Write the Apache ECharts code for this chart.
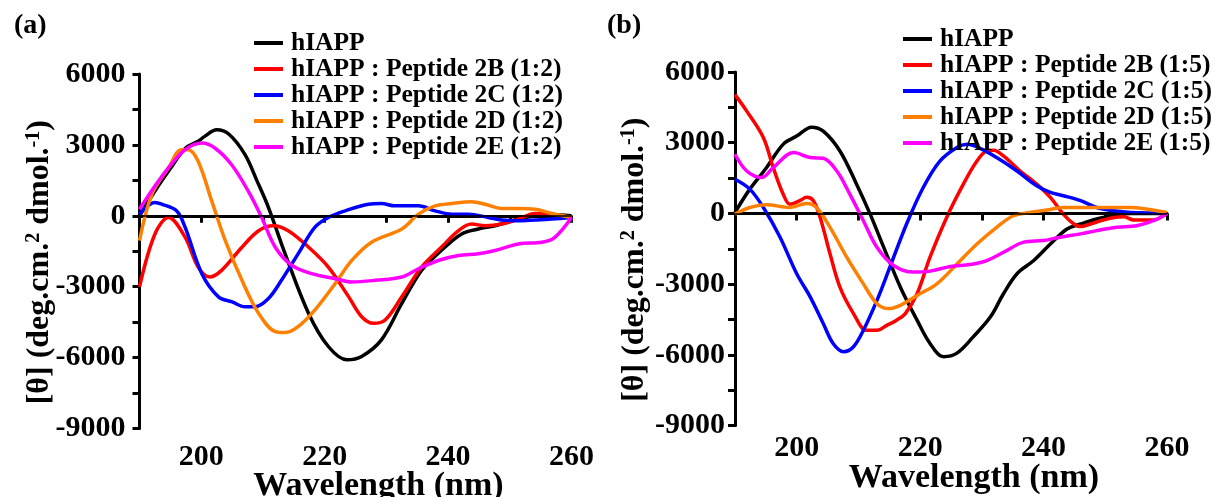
<!DOCTYPE html>
<html>
<head>
<meta charset="utf-8">
<script src="https://cdn.jsdelivr.net/npm/echarts@6/dist/echarts.min.js"></script>
<style>
html,body{margin:0;padding:0;background:#fff;}
#chart{width:1215px;height:497px;}
</style>
</head>
<body>
<div id="chart"></div>
<script>
// ---------------- DATA ----------------
const xTickValues = [200, 220, 240, 260];
const yTickValues = [-9000, -6000, -3000, 0, 3000, 6000];

const namesA = ['hIAPP', 'hIAPP : Peptide 2B (1:2)', 'hIAPP : Peptide 2C (1:2)', 'hIAPP : Peptide 2D (1:2)', 'hIAPP : Peptide 2E (1:2)'];
const namesB = ['hIAPP', 'hIAPP : Peptide 2B (1:5)', 'hIAPP : Peptide 2C (1:5)', 'hIAPP : Peptide 2D (1:5)', 'hIAPP : Peptide 2E (1:5)'];
const colors = ['#000000', '#ff0000', '#0000ff', '#ff8000', '#ff00ff'];

// Panel (a)
const aBlackX = [190, 192.5, 195, 197.4, 199.5, 200.5, 202.5, 204.5, 207.1, 209, 210.9, 213.6, 217.4, 220.6, 223.6, 226, 229.2, 232.5, 235.7, 238.9, 242.2, 244.9, 247.6, 250.3, 254.1, 256.8, 260];
const aBlackY = [0, 1050, 2000, 2850, 3150, 3350, 3640, 3450, 2590, 1500, 350, -1610, -4130, -5530, -6090, -5950, -5250, -3710, -2310, -1470, -770, -560, -420, -210, 0, 40, 0];

const aRedX = [190, 192.5, 194.7, 197.4, 199.5, 201.4, 203.3, 206.6, 209.3, 211.7, 214.1, 217.4, 220.6, 223.9, 226, 227.9, 229.8, 232.5, 235.7, 238.9, 241.7, 243.8, 246, 248.7, 251.4, 254.1, 256.8, 260];
const aRedY = [-3010, -770, -70, -910, -2170, -2590, -2310, -1330, -630, -420, -630, -1330, -2170, -3430, -4270, -4550, -4410, -3430, -2170, -1330, -630, -350, -420, -350, -140, 100, 70, -70];

const aBlueX = [190, 192.5, 193.6, 196, 197.4, 200.1, 202.8, 205, 207.1, 208.7, 210.9, 213, 215.7, 218.4, 220.6, 223.3, 227.1, 229.2, 231.4, 235.2, 237.9, 240.6, 243.3, 246.5, 248.7, 251.4, 254.1, 256.8, 260];
const aBlueY = [70, 560, 490, 210, -490, -2450, -3430, -3640, -3850, -3850, -3500, -2730, -1610, -490, -70, 210, 490, 520, 420, 420, 210, 70, 70, -70, -180, -210, -180, -140, -70];

const aOrangeX = [190, 192, 194.7, 196.8, 197.9, 199.5, 201.7, 203.9, 206.6, 209.3, 212, 213.6, 215.7, 218.4, 221.7, 224.4, 227.6, 232.5, 235.2, 237.9, 240.6, 243.8, 246, 248.7, 251.4, 254.1, 256.8, 260];
const aOrangeY = [-1050, 910, 2030, 2800, 2800, 2310, 630, -1050, -2730, -4130, -4900, -4940, -4690, -3990, -2870, -1890, -1120, -560, 70, 420, 520, 590, 490, 310, 310, 280, 100, -70];

const aMagentaX = [190, 192.5, 194.7, 197.4, 200.1, 202.2, 204.9, 207.6, 209.8, 212, 214.7, 217.9, 221.7, 224.4, 228.2, 232.5, 235.2, 238.4, 241.7, 244.9, 247.6, 251.4, 255.2, 257.3, 260];
const aMagentaY = [280, 1260, 2030, 2800, 3080, 2870, 2170, 1050, -70, -1330, -2100, -2450, -2660, -2800, -2730, -2590, -2240, -1890, -1680, -1610, -1470, -1190, -1120, -910, -70];

// Panel (b)
const bBlackX = [190, 192.4, 195.1, 197.8, 200, 202.4, 204.3, 207, 209.7, 211.9, 214.1, 216.8, 219.5, 221.6, 223.8, 225.9, 228.6, 231.4, 233.5, 235.7, 238.4, 241.1, 243.8, 246, 248.6, 251.4, 254.1, 260];
const bBlackY = [40, 1030, 1940, 2930, 3280, 3660, 3490, 2650, 1240, -30, -1440, -3130, -4530, -5520, -6080, -5940, -5240, -4390, -3410, -2560, -2000, -1300, -660, -450, -240, -100, 0, 0];

const bRedX = [190, 191.9, 194.6, 196.2, 197.8, 198.9, 200.5, 201.6, 202.7, 203.8, 205.4, 207, 209.2, 211.3, 213, 214.6, 216.2, 217.6, 219.5, 221.6, 224.3, 227, 229.2, 230.8, 231.9, 233.5, 236.2, 238.9, 241.1, 243.2, 244.9, 246, 247.6, 249.7, 251.4, 253, 254.6, 256.8, 258.4, 260];
const bRedY = [5040, 4340, 3210, 1940, 820, 390, 540, 680, 540, -170, -1720, -3130, -4250, -4960, -4960, -4750, -4530, -4250, -3410, -1860, -170, 1240, 2220, 2650, 2680, 2440, 1800, 1240, 680, -30, -450, -560, -450, -280, -170, -140, -280, -280, -240, 0];

const bBlueX = [190, 192.4, 194.6, 197.3, 200, 202.2, 204.3, 205.9, 207.6, 209.2, 210.8, 213, 215.1, 217.8, 220.5, 223.2, 225.9, 227.6, 229.7, 232.4, 235.7, 238.9, 241.1, 243.2, 246, 248.6, 251.4, 254.1, 260];
const bBlueY = [1450, 1030, 250, -1010, -2560, -3550, -4670, -5520, -5870, -5660, -4960, -3690, -2280, -450, 1100, 2220, 2790, 2930, 2760, 2370, 1800, 1170, 890, 750, 540, 250, 110, 40, 0];

const bOrangeX = [190, 192.4, 195.1, 198.9, 201.6, 203.2, 205.4, 208.1, 210.8, 213, 214.9, 216.8, 219.5, 222.7, 226, 229.2, 232.4, 235.1, 237.8, 240.5, 243.2, 248.6, 254.1, 256.8, 260];
const bOrangeY = [-30, 250, 370, 250, 420, 250, -590, -1860, -2990, -3830, -4040, -3900, -3480, -2990, -2140, -1300, -590, -100, 40, 140, 250, 250, 250, 180, 40];

const bMagentaX = [190, 191.9, 194.3, 196.2, 199.5, 202.2, 204.3, 206.5, 208.6, 210.8, 213, 215.7, 218.9, 221.6, 224.9, 228.1, 230.8, 233.5, 236.8, 240, 242.7, 246, 248.6, 251.9, 255.1, 257.8, 260];
const bMagentaY = [2510, 1800, 1520, 1940, 2580, 2370, 2340, 1800, 820, -310, -1440, -2210, -2490, -2450, -2250, -2170, -2000, -1650, -1220, -1150, -1010, -870, -730, -590, -520, -310, 0];

// ---------------- BUILD ----------------
const FONT = "'Liberation Serif', 'Times New Roman', serif";
function pairs(xs, ys) { return xs.map((x, i) => [x, ys[i]]); }

const panelA = [[aBlackX, aBlackY], [aRedX, aRedY], [aBlueX, aBlueY], [aOrangeX, aOrangeY], [aMagentaX, aMagentaY]];
const panelB = [[bBlackX, bBlackY], [bRedX, bRedY], [bBlueX, bBlueY], [bOrangeX, bOrangeY], [bMagentaX, bMagentaY]];

function makeSeries(panel, names, idx) {
  return panel.map((d, i) => {
    const s = {
      name: names[i], type: 'line', xAxisIndex: idx, yAxisIndex: idx,
      data: pairs(d[0], d[1]), smooth: 0.35, showSymbol: false, symbol: 'none',
      lineStyle: { color: colors[i], width: 3.5 }, itemStyle: { color: colors[i] },
      z: 3, animation: false
    };
    if (i === 0) {
      s.markLine = {
        silent: true, symbol: ['none', 'none'], label: { show: false },
        lineStyle: { color: '#000', width: 1.5, type: 'solid' },
        data: [{ yAxis: 0 }], animation: false
      };
    }
    return s;
  });
}

function xAxisCfg(idx, labelMargin, nameGap) {
  return {
    gridIndex: idx, type: 'value', min: 190, max: 260, interval: 10,
    axisLine: { show: true, lineStyle: { color: '#000', width: 3 } },
    axisTick: { show: true, length: 7, lineStyle: { color: '#000', width: 3 } },
    splitLine: { show: false },
    axisLabel: {
      margin: labelMargin, color: '#000', fontFamily: FONT, fontWeight: 'bold', fontSize: 30,
      formatter: v => xTickValues.includes(v) ? String(v) : ''
    },
    name: 'Wavelength (nm)', nameLocation: 'middle', nameGap: nameGap, nameMoveOverlap: false,
    nameTextStyle: { color: '#000', fontFamily: FONT, fontWeight: 'bold', fontSize: 34, padding: [0, 0, 0, 46] }
  };
}

function yAxisCfg(idx, labelMargin, nameGap) {
  return {
    gridIndex: idx, type: 'value', min: -9000, max: 6000, interval: 1500,
    axisLine: { show: true, lineStyle: { color: '#000', width: 3 } },
    axisTick: { show: true, length: 7, lineStyle: { color: '#000', width: 3 } },
    splitLine: { show: false },
    axisLabel: {
      margin: labelMargin, color: '#000', fontFamily: FONT, fontWeight: 'bold', fontSize: 30,
      formatter: v => yTickValues.includes(v) ? String(v) : ''
    },
    name: '[θ] (deg.cm.{sup|2} dmol.{sup|-1})', nameLocation: 'middle', nameGap: nameGap, nameMoveOverlap: false,
    nameTextStyle: {
      color: '#000', fontFamily: FONT, fontWeight: 'bold', fontSize: 32, padding: [0, 22, 0, 0],
      rich: { sup: { fontFamily: FONT, fontWeight: 'bold', fontSize: 20, verticalAlign: 'top', color: '#000' } }
    }
  };
}

function legendCfg(names, left, top, lh) {
  return {
    data: names, orient: 'vertical', left: left, top: top, padding: 0, itemGap: 0,
    itemWidth: 29, itemHeight: 4, icon: 'rect', selectedMode: false,
    textStyle: { color: '#000', fontFamily: FONT, fontWeight: 'bold', fontSize: 25.5, lineHeight: lh, padding: [0, 0, 0, 3] }
  };
}

const chart = echarts.init(document.getElementById('chart'), null, { renderer: 'canvas' });
chart.setOption({
  backgroundColor: '#fff',
  animation: false,
  grid: [
    { left: 139.5, top: 74, width: 432, height: 354.5, containLabel: false, outerBoundsMode: 'none' },
    { left: 735, top: 72, width: 432, height: 353.5, containLabel: false, outerBoundsMode: 'none' }
  ],
  xAxis: [xAxisCfg(0, 14, 41), xAxisCfg(1, 8, 36)],
  yAxis: [yAxisCfg(0, 14, 84), yAxisCfg(1, 10, 84)],
  legend: [legendCfg(namesA, 254, 30, 21.7), legendCfg(namesB, 903, 26, 22.3)],
  graphic: [
    { type: 'text', left: 14, top: 12, style: { text: '(a)', font: "bold 28px 'Liberation Serif', serif", fill: '#000' } },
    { type: 'text', left: 607, top: 12, style: { text: '(b)', font: "bold 28px 'Liberation Serif', serif", fill: '#000' } }
  ],
  series: [...makeSeries(panelA, namesA, 0), ...makeSeries(panelB, namesB, 1)]
});
</script>
</body>
</html>
